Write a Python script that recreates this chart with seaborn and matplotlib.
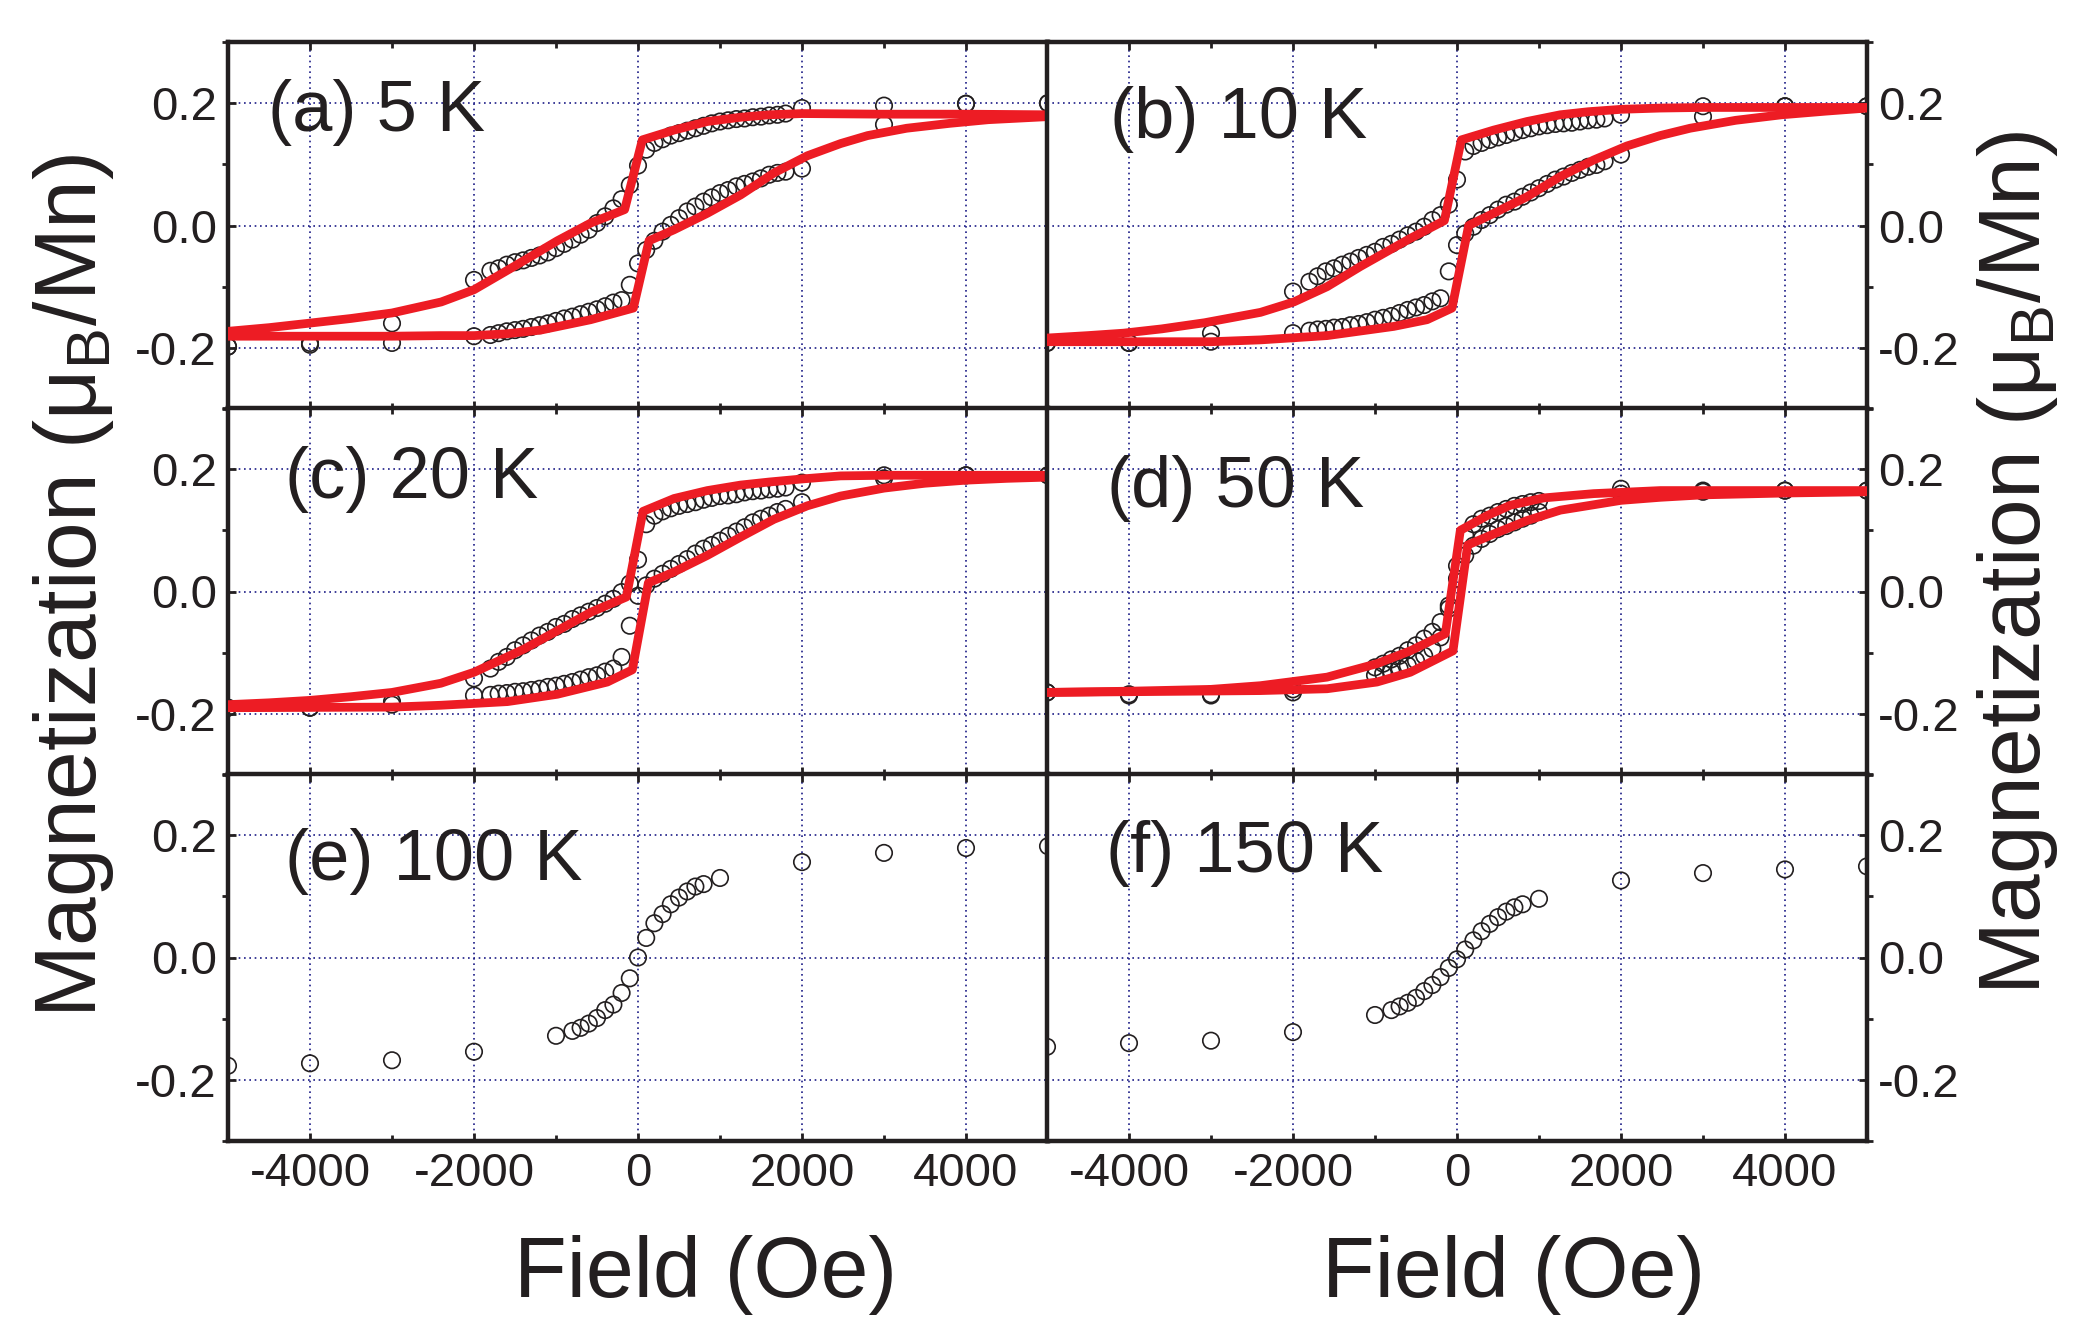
import numpy as np
import pandas as pd
import matplotlib
matplotlib.use("Agg")
import matplotlib.pyplot as plt
import seaborn as sns
from matplotlib.ticker import MultipleLocator, FixedLocator

# ---------------- data ----------------
FIELD_ABC = [5000, 4000, 3000, 2000, 1800, 1700, 1600, 1500, 1400, 1300, 1200, 1100,
             1000, 900, 800, 700, 600, 500, 400, 300, 200, 100, 0, -100, -200, -300,
             -400, -500, -600, -700, -800, -900, -1000, -1100, -1200, -1300, -1400,
             -1500, -1600, -1700, -1800, -2000, -3000, -4000, -5000]

A_DESC = [0.200, 0.199, 0.196, 0.192, 0.183, 0.181, 0.180, 0.178, 0.177, 0.175, 0.174, 0.172,
          0.170, 0.167, 0.163, 0.159, 0.155, 0.151, 0.147, 0.141, 0.135, 0.124, 0.098, 0.066,
          0.043, 0.028, 0.015, 0.004, -0.007, -0.015, -0.023, -0.030, -0.037, -0.044, -0.049,
          -0.053, -0.057, -0.060, -0.064, -0.070, -0.074, -0.089, -0.160, -0.192, -0.198]
A_ASC = [0.200, 0.199, 0.165, 0.093, 0.088, 0.086, 0.083, 0.077, 0.072, 0.068, 0.064, 0.058,
         0.053, 0.046, 0.039, 0.031, 0.023, 0.012, 0.001, -0.010, -0.025, -0.040, -0.062, -0.097,
         -0.122, -0.126, -0.132, -0.137, -0.141, -0.145, -0.149, -0.152, -0.156, -0.160, -0.163,
         -0.166, -0.169, -0.171, -0.173, -0.176, -0.179, -0.181, -0.192, -0.195, -0.198]

B_DESC = [0.195, 0.195, 0.195, 0.181, 0.175, 0.173, 0.172, 0.170, 0.168, 0.167, 0.166, 0.164,
          0.162, 0.159, 0.156, 0.152, 0.148, 0.144, 0.140, 0.135, 0.130, 0.121, 0.075, 0.034,
          0.017, 0.009, -0.002, -0.010, -0.016, -0.023, -0.030, -0.035, -0.043, -0.048, -0.053,
          -0.059, -0.064, -0.070, -0.075, -0.083, -0.092, -0.108, -0.176, -0.192, -0.192]
B_ASC = [0.195, 0.195, 0.178, 0.116, 0.105, 0.099, 0.096, 0.091, 0.086, 0.080, 0.075, 0.068,
         0.061, 0.054, 0.047, 0.039, 0.034, 0.026, 0.017, 0.009, -0.002, -0.013, -0.032, -0.075,
         -0.119, -0.124, -0.130, -0.134, -0.138, -0.143, -0.148, -0.151, -0.154, -0.158, -0.161,
         -0.163, -0.166, -0.167, -0.169, -0.170, -0.172, -0.176, -0.190, -0.192, -0.192]

C_DESC = [0.190, 0.190, 0.190, 0.178, 0.170, 0.168, 0.167, 0.165, 0.164, 0.162, 0.159, 0.157,
          0.156, 0.153, 0.150, 0.146, 0.143, 0.140, 0.136, 0.131, 0.124, 0.110, 0.052, 0.013,
          -0.001, -0.012, -0.020, -0.027, -0.033, -0.039, -0.045, -0.053, -0.058, -0.066, -0.072,
          -0.080, -0.088, -0.096, -0.107, -0.115, -0.126, -0.142, -0.180, -0.190, -0.190]
C_ASC = [0.190, 0.190, 0.185, 0.146, 0.135, 0.130, 0.124, 0.119, 0.113, 0.105, 0.098, 0.091,
         0.083, 0.076, 0.070, 0.062, 0.053, 0.045, 0.037, 0.029, 0.021, 0.010, -0.007, -0.056,
         -0.107, -0.126, -0.131, -0.137, -0.140, -0.144, -0.148, -0.151, -0.154, -0.156, -0.159,
         -0.161, -0.163, -0.164, -0.166, -0.167, -0.169, -0.170, -0.185, -0.190, -0.190]

FIELD_D = [5000, 4000, 3000, 2000, 1000, 900, 800, 700, 600, 500, 400, 300, 200, 100, 0,
           -100, -200, -300, -400, -500, -600, -700, -800, -900, -1000, -2000, -3000, -4000, -5000]
D_DESC = [0.165, 0.165, 0.165, 0.168, 0.148, 0.146, 0.143, 0.140, 0.135, 0.130, 0.124, 0.119,
          0.110, 0.092, 0.042, -0.023, -0.050, -0.066, -0.077, -0.088, -0.096, -0.105, -0.111,
          -0.118, -0.124, -0.160, -0.168, -0.168, -0.165]
D_ASC = [0.165, 0.165, 0.163, 0.160, 0.130, 0.124, 0.119, 0.113, 0.107, 0.102, 0.094, 0.086,
         0.075, 0.059, 0.021, -0.028, -0.075, -0.094, -0.105, -0.113, -0.121, -0.126, -0.131,
         -0.134, -0.137, -0.165, -0.170, -0.170, -0.165]

FIELD_EF = [-5000, -4000, -3000, -2000, -1000, -800, -700, -600, -500, -400, -300, -200, -100,
            0, 100, 200, 300, 400, 500, 600, 700, 800, 1000, 2000, 3000, 4000, 5000]
E_M = [-0.177, -0.173, -0.168, -0.154, -0.128, -0.120, -0.115, -0.108, -0.099, -0.086, -0.077,
       -0.058, -0.034, 0.000, 0.032, 0.056, 0.071, 0.087, 0.098, 0.108, 0.116, 0.120, 0.130,
       0.156, 0.171, 0.179, 0.182]
F_M = [-0.146, -0.140, -0.136, -0.122, -0.094, -0.086, -0.080, -0.074, -0.066, -0.055, -0.045,
       -0.032, -0.017, -0.003, 0.013, 0.028, 0.043, 0.055, 0.066, 0.075, 0.082, 0.087, 0.096,
       0.126, 0.138, 0.144, 0.149]

# fitted curves (red)
FIT_A_UP_H = [5000, 4000, 3000, 2000, 1600, 1252, 846, 439, 53, -163, -577, -984, -1500, -2000,
              -2400, -3000, -3500, -4030, -4500, -5000]
FIT_A_UP_M = [0.181, 0.182, 0.182, 0.183, 0.181, 0.177, 0.170, 0.156, 0.140, 0.026, 0.004, -0.025,
              -0.066, -0.105, -0.125, -0.143, -0.152, -0.160, -0.167, -0.173]
FIT_A_LO_H = [-5000, -4000, -3000, -2407, -2000, -1600, -1187, -577, -57, 134, 439, 846, 1252,
              1659, 2065, 2472, 2800, 3276, 3800, 4273, 5000]
FIT_A_LO_M = [-0.181, -0.181, -0.181, -0.180, -0.180, -0.177, -0.171, -0.154, -0.135, -0.025,
              -0.007, 0.020, 0.050, 0.086, 0.114, 0.134, 0.147, 0.159, 0.167, 0.173, 0.178]

FIT_B_UP_H = [5000, 4000, 3000, 2477, 2010, 1600, 1259, 853, 447, 53, -154, -569, -1178, -1584,
              -1990, -2396, -3080, -3600, -4065, -4500, -5000]
FIT_B_UP_M = [0.193, 0.193, 0.193, 0.192, 0.190, 0.186, 0.181, 0.170, 0.156, 0.140, 0.008,
              -0.021, -0.067, -0.100, -0.125, -0.142, -0.159, -0.169, -0.176, -0.180, -0.184]
FIT_B_LO_H = [-5000, -3000, -2396, -1584, -772, -365, -61, 142, 447, 853, 1259, 1665, 2071, 2477,
              2842, 3400, 3960, 4500, 5000]
FIT_B_LO_M = [-0.190, -0.190, -0.187, -0.180, -0.165, -0.154, -0.135, 0.000, 0.020, 0.047, 0.080,
              0.107, 0.130, 0.147, 0.159, 0.172, 0.181, 0.187, 0.192]

FIT_C_UP_H = [5000, 4000, 3000, 2469, 2002, 1600, 1251, 845, 439, 61, -142, -577, -983, -1389,
              -1998, -2404, -3000, -3500, -4000, -4500, -5000]
FIT_C_UP_M = [0.190, 0.190, 0.190, 0.189, 0.184, 0.179, 0.174, 0.165, 0.152, 0.131, -0.009, -0.034,
              -0.064, -0.094, -0.132, -0.150, -0.165, -0.172, -0.178, -0.182, -0.185]
FIT_C_LO_H = [-5000, -3000, -2404, -1592, -983, -374, -69, 126, 439, 845, 1251, 1657, 2063, 2469,
              3000, 3500, 4000, 4500, 5000]
FIT_C_LO_M = [-0.190, -0.189, -0.186, -0.180, -0.168, -0.148, -0.128, 0.014, 0.032, 0.059, 0.089,
              0.118, 0.140, 0.156, 0.169, 0.177, 0.182, 0.185, 0.187]

FIT_D_UP_H = [5000, 2480, 1667, 1057, 650, 366, 41, -142, -569, -976, -1585, -2398, -3000, -4000, -5000]
FIT_D_UP_M = [0.165, 0.165, 0.160, 0.153, 0.141, 0.124, 0.100, -0.069, -0.097, -0.118, -0.140, -0.154, -0.160, -0.163, -0.165]
FIT_D_LO_H = [-5000, -2398, -1585, -976, -569, -49, 130, 447, 854, 1260, 2000, 2480, 3000, 4000, 5000]
FIT_D_LO_M = [-0.165, -0.162, -0.159, -0.148, -0.132, -0.097, 0.076, 0.094, 0.116, 0.133, 0.149, 0.154, 0.158, 0.161, 0.163]

LABELS = ["(a) 5 K", "(b) 10 K", "(c) 20 K", "(d) 50 K", "(e) 100 K", "(f) 150 K"]
X_TICKS = [-4000, -2000, 0, 2000, 4000]
X_TICK_LABELS = ["-4000", "-2000", "0", "2000", "4000"]
Y_TICKS = [-0.2, 0.0, 0.2]
Y_TICK_LABELS = ["-0.2", "0.0", "0.2"]

# ---------------- style ----------------
sns.set_style("white")
plt.rcParams["font.family"] = ["Liberation Sans", "DejaVu Sans"]
plt.rcParams["axes.unicode_minus"] = False
plt.rcParams["mathtext.fontset"] = "custom"
plt.rcParams["mathtext.rm"] = "Liberation Sans"

INK = "#231f20"
RED = "#ED1C24"
GRID = "#1c1c86"

W, H = 2091, 1336
fig = plt.figure(figsize=(W / 100, H / 100), dpi=100)

col_x = [228, 1047]
col_w = 820
row_top = [42, 408, 774]
row_h = 367

panels = [
    dict(scat=[(FIELD_ABC, A_DESC), (FIELD_ABC, A_ASC)],
         fits=[(FIT_A_UP_H, FIT_A_UP_M), (FIT_A_LO_H, FIT_A_LO_M)], lab=(0.049, 0.757)),
    dict(scat=[(FIELD_ABC, B_DESC), (FIELD_ABC, B_ASC)],
         fits=[(FIT_B_UP_H, FIT_B_UP_M), (FIT_B_LO_H, FIT_B_LO_M)], lab=(0.077, 0.738)),
    dict(scat=[(FIELD_ABC, C_DESC), (FIELD_ABC, C_ASC)],
         fits=[(FIT_C_UP_H, FIT_C_UP_M), (FIT_C_LO_H, FIT_C_LO_M)], lab=(0.070, 0.754)),
    dict(scat=[(FIELD_D, D_DESC), (FIELD_D, D_ASC)],
         fits=[(FIT_D_UP_H, FIT_D_UP_M), (FIT_D_LO_H, FIT_D_LO_M)], lab=(0.073, 0.730)),
    dict(scat=[(FIELD_EF, E_M)], fits=[], lab=(0.070, 0.710)),
    dict(scat=[(FIELD_EF, F_M)], fits=[], lab=(0.072, 0.732)),
]

for i, p in enumerate(panels):
    row, col = divmod(i, 2)
    ax = fig.add_axes([col_x[col] / W, 1 - (row_top[row] + row_h) / H, col_w / W, row_h / H])
    for hx, my in p["scat"]:
        df = pd.DataFrame({"H": hx, "M": my})
        sns.scatterplot(data=df, x="H", y="M", ax=ax, marker="o", s=140,
                        facecolor="none", edgecolor=INK, linewidth=1.2,
                        zorder=3, legend=False)
    for hx, my in p["fits"]:
        df = pd.DataFrame({"H": hx, "M": my})
        sns.lineplot(data=df, x="H", y="M", ax=ax, sort=False, estimator=None,
                     color=RED, linewidth=6.3, zorder=4, legend=False)
    ax.set_xlim(-5000, 5000)
    ax.set_ylim(-0.3, 0.3)
    ax.set_xlabel("")
    ax.set_ylabel("")
    ax.xaxis.set_major_locator(FixedLocator(X_TICKS))
    ax.xaxis.set_minor_locator(MultipleLocator(1000))
    ax.yaxis.set_major_locator(FixedLocator(Y_TICKS))
    ax.yaxis.set_minor_locator(MultipleLocator(0.1))
    ax.set_xticklabels(X_TICK_LABELS)
    ax.set_yticklabels(Y_TICK_LABELS)
    ax.grid(True, which="major", color=GRID, linestyle=(0, (1, 2.2)), linewidth=1.2)
    ax.set_axisbelow(True)
    for s in ax.spines.values():
        s.set_linewidth(3.2)
        s.set_color(INK)
    ax.tick_params(axis="x", which="major", direction="in", length=6, width=2,
                   color=INK, top=True, bottom=True, labelbottom=(row == 2),
                   labeltop=False, labelsize=34, pad=8, labelcolor=INK)
    ax.tick_params(axis="x", which="minor", direction="in", length=4, width=2,
                   color=INK, top=True, bottom=True)
    if col == 0:
        ax.tick_params(axis="y", which="both", left=True, right=False,
                       labelleft=True, labelright=False)
    else:
        ax.tick_params(axis="y", which="both", left=False, right=True,
                       labelleft=False, labelright=True)
    ax.tick_params(axis="y", which="major", direction="in", length=6, width=2,
                   color=INK, labelsize=34, pad=8, labelcolor=INK)
    ax.tick_params(axis="y", which="minor", direction="out", length=4, width=2, color=INK)
    ax.text(p["lab"][0], p["lab"][1], LABELS[i], transform=ax.transAxes,
            fontsize=52, ha="left", va="baseline", color=INK)

ylab = "Magnetization (\u03bc$_\\mathregular{B}$/Mn)"
fig.text(74 / W, 1 - 586 / H, ylab, rotation=90, fontsize=63, ha="center", va="center", color=INK)
fig.text(2017 / W, 1 - 563 / H, ylab, rotation=90, fontsize=63, ha="center", va="center", color=INK)
fig.text(706 / W, 1 - 1297 / H, "Field (Oe)", fontsize=62, ha="center", va="baseline", color=INK)
fig.text(1514 / W, 1 - 1297 / H, "Field (Oe)", fontsize=62, ha="center", va="baseline", color=INK)

fig.savefig("out.png", dpi=100)
